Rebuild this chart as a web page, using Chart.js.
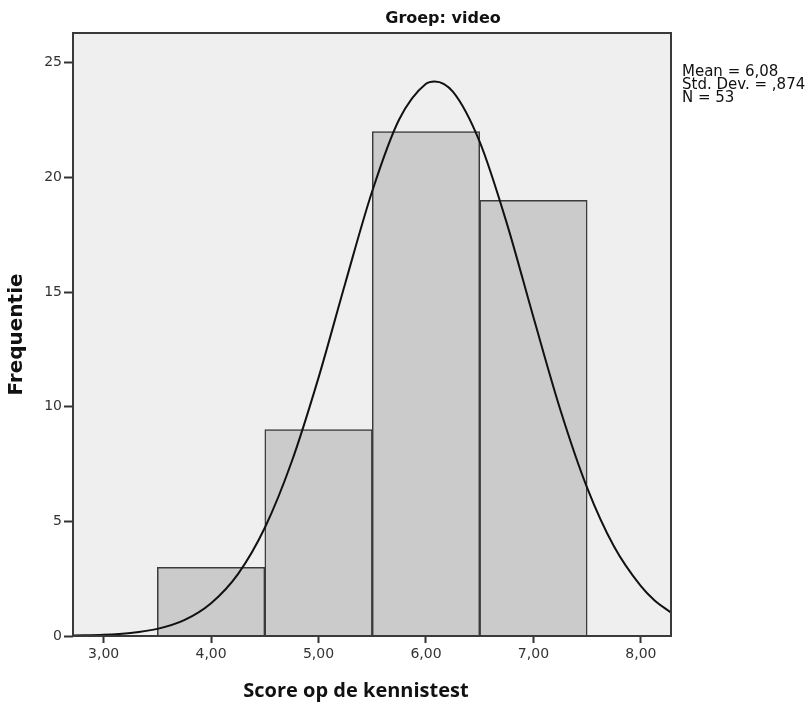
<!DOCTYPE html>
<html>
<head>
<meta charset="utf-8">
<script src="https://cdn.jsdelivr.net/npm/chart.js@4.4.0/dist/chart.umd.min.js"></script>
<style>
  html, body { margin: 0; padding: 0; background: #fff; }
  #wrap { width: 808px; height: 703px; }
</style>
</head>
<body>
<div id="wrap"><canvas id="hist" width="808" height="703"></canvas></div>
<script>
  'use strict';

  // histogram bins (centre of each bin) and their frequencies
  const binCenters = [4, 5, 6, 7];
  const counts = [3, 9, 22, 19];

  // normal curve
  const curveX = [2.72, 3.0, 3.25, 3.5, 3.75, 4.0, 4.25, 4.5, 4.75, 5.0, 5.25, 5.5, 5.75, 6.0, 6.08, 6.25, 6.5, 6.75, 7.0, 7.25, 7.5, 7.75, 8.0, 8.125, 8.28];
  const curveY = [0.02, 0.05, 0.13, 0.31, 0.69, 1.43, 2.70, 4.72, 7.60, 11.27, 15.41, 19.41, 22.53, 24.09, 24.19, 23.74, 21.55, 18.03, 13.90, 9.87, 6.46, 3.90, 2.17, 1.56, 1.02];

  // axes
  const xTicks = [3, 4, 5, 6, 7, 8];
  const yTicks = [0, 5, 10, 15, 20, 25];
  const xRange = [2.715, 8.28];
  const yRange = [0, 26.3];

  const chartTitle = 'Groep: video';
  const xTitle = 'Score op de kennistest';
  const yTitle = 'Frequentie';
  const statLines = ['Mean = 6,08', 'Std. Dev. = ,874', 'N = 53'];

  const fmtComma = v => v.toFixed(2).replace('.', ',');

  // plot background, frame, titles and the stats block (SPSS style)
  const spssFrame = {
    id: 'spssFrame',
    beforeDraw(chart) {
      const { ctx, chartArea: a } = chart;
      ctx.save();
      ctx.fillStyle = '#efefef';
      ctx.fillRect(a.left, a.top, a.right - a.left, a.bottom - a.top);
      ctx.restore();
    },
    afterDatasetsDraw(chart) {
      const { ctx, chartArea: a } = chart;
      ctx.save();
      ctx.strokeStyle = '#3a3a3a';
      ctx.lineWidth = 2;
      ctx.strokeRect(a.left, a.top, a.right - a.left, a.bottom - a.top);
      ctx.restore();
    },
    afterDraw(chart) {
      const { ctx, chartArea: a } = chart;
      ctx.save();
      ctx.fillStyle = '#111';
      ctx.textBaseline = 'alphabetic';
      ctx.textAlign = 'center';
      ctx.font = 'bold 16px "DejaVu Sans"';
      ctx.fillText(chartTitle, 443, 23);

      // x axis title sits a little left of the plot centre in the original
      ctx.font = 'bold 20px "Open Sans"';
      ctx.fillText(xTitle, 356, 697);

      ctx.textAlign = 'left';
      ctx.font = '15px "DejaVu Sans"';
      statLines.forEach((t, i) => {
        ctx.fillText(t, a.right + 11, 76 + i * 13);
      });
      ctx.restore();
    }
  };

  const ctx = document.getElementById('hist');

  new Chart(ctx, {
    type: 'bar',
    data: {
      datasets: [
        {
          type: 'line',
          data: curveX.map((x, i) => ({ x: x, y: curveY[i] })),
          borderColor: '#111',
          borderWidth: 2,
          pointRadius: 0,
          fill: false,
          cubicInterpolationMode: 'monotone',
          order: 0
        },
        {
          type: 'bar',
          data: binCenters.map((x, i) => ({ x: x, y: counts[i] })),
          backgroundColor: '#cbcbcb',
          borderColor: '#3a3a3a',
          borderWidth: 1.5,
          barPercentage: 1,
          categoryPercentage: 1,
          order: 1
        }
      ]
    },
    options: {
      responsive: false,
      animation: false,
      layout: { padding: { top: 33, right: 137, left: 0, bottom: 0 } },
      plugins: {
        legend: { display: false },
        tooltip: { enabled: false }
      },
      scales: {
        x: {
          type: 'linear',
          min: xRange[0],
          max: xRange[1],
          offset: false,
          afterBuildTicks: s => { s.ticks = xTicks.map(v => ({ value: v })); },
          afterFit: s => { s.height = 67; },
          grid: { offset: false, drawOnChartArea: false, tickLength: 7, tickWidth: 2, tickColor: '#333' },
          border: { display: false },
          ticks: {
            maxRotation: 0,
            padding: 3,
            color: '#333',
            font: { family: 'DejaVu Sans', size: 14 },
            callback: v => fmtComma(v)
          }
        },
        y: {
          min: yRange[0],
          max: yRange[1],
          afterBuildTicks: s => { s.ticks = yTicks.map(v => ({ value: v })); },
          afterFit: s => { s.width = 73; },
          grid: { drawOnChartArea: false, tickLength: 9, tickWidth: 2, tickColor: '#333' },
          border: { display: false },
          ticks: {
            padding: 2,
            color: '#333',
            font: { family: 'DejaVu Sans', size: 14 }
          },
          title: {
            display: true,
            text: yTitle,
            color: '#111',
            font: { family: 'DejaVu Sans', size: 20, weight: 'bold' },
            padding: { top: 5, bottom: 0 }
          }
        }
      }
    },
    plugins: [spssFrame]
  });
</script>
</body>
</html>
